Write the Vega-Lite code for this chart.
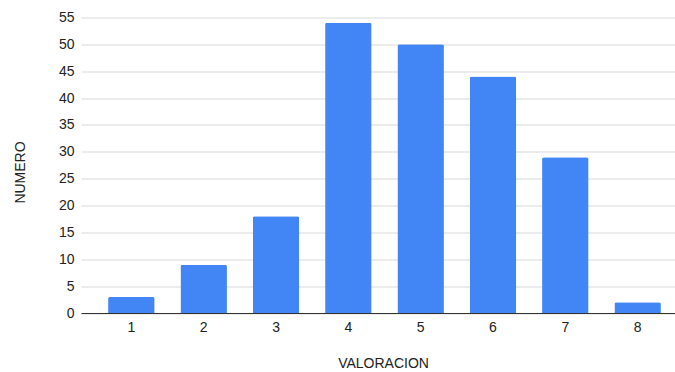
{
  "$schema": "https://vega.github.io/schema/vega-lite/v6.json",
  "autosize": "none",
  "padding": {"left": 81, "top": 17.5, "right": 0, "bottom": 59},
  "width": 594,
  "height": 295.5,
  "background": "white",
  "data": {
    "values": [
      {"VALORACION": 1, "NUMERO": 3},
      {"VALORACION": 2, "NUMERO": 9},
      {"VALORACION": 3, "NUMERO": 18},
      {"VALORACION": 4, "NUMERO": 54},
      {"VALORACION": 5, "NUMERO": 50},
      {"VALORACION": 6, "NUMERO": 44},
      {"VALORACION": 7, "NUMERO": 29},
      {"VALORACION": 8, "NUMERO": 2}
    ]
  },
  "config": {
    "view": {"stroke": null},
    "font": "Liberation Sans"
  },
  "mark": {"type": "bar", "color": "#4285F4", "cornerRadiusTopLeft": 2, "cornerRadiusTopRight": 2},
  "encoding": {
    "x": {
      "field": "VALORACION",
      "type": "ordinal",
      "scale": {"range": [0, 607], "paddingInner": 0.357, "paddingOuter": 0.375},
      "axis": {
        "title": "VALORACION",
        "titleFontSize": 14,
        "titleFontWeight": "normal",
        "titleColor": "#222222",
        "titleX": 302,
        "titleY": 50,
        "titleBaseline": "middle",
        "labelAngle": 0,
        "labelFontSize": 14,
        "labelColor": "#222222",
        "labelPadding": 7,
        "ticks": false,
        "domainColor": "#333333",
        "domainWidth": 1
      }
    },
    "y": {
      "field": "NUMERO",
      "type": "quantitative",
      "scale": {"domain": [0, 55], "nice": false},
      "axis": {
        "title": "NUMERO",
        "titleFontSize": 14,
        "titleFontWeight": "normal",
        "titleColor": "#222222",
        "titleX": -61,
        "titleY": 154.5,
        "titleBaseline": "middle",
        "values": [0, 5, 10, 15, 20, 25, 30, 35, 40, 45, 50, 55],
        "labelFontSize": 14,
        "labelColor": "#222222",
        "labelPadding": 7,
        "ticks": false,
        "domain": false,
        "gridColor": "#d9d9d9",
        "gridWidth": 1
      }
    }
  }
}
